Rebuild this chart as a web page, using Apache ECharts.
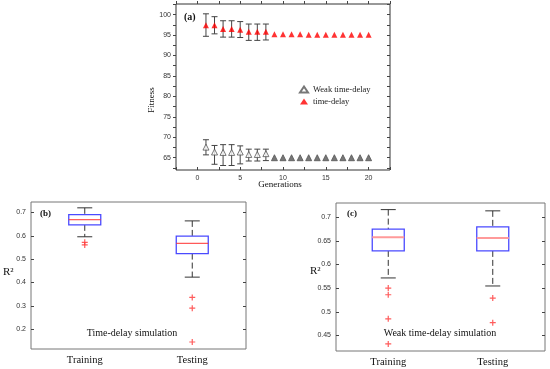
<!DOCTYPE html>
<html><head><meta charset="utf-8">
<script src="https://cdn.jsdelivr.net/npm/echarts@6/dist/echarts.min.js"></script>
<style>html,body{margin:0;padding:0;background:#fff}#c{width:550px;height:369px}</style>
</head><body><div id="c"></div>
<script>
// ---- data: panel (a) ----
const generations = [1,2,3,4,5,6,7,8,9,10,11,12,13,14,15,16,17,18,19,20];
const tdMean = [97.4,97.4,96.5,96.5,96.3,95.8,95.8,95.8,95.2,95.2,95.2,95.2,95.1,95.1,95.1,95.1,95.1,95.1,95.1,95.1];
const tdLow  = [94.7,95.3,94.5,94.5,94.4,93.7,93.7,93.8,95.2,95.2,95.2,95.2,95.1,95.1,95.1,95.1,95.1,95.1,95.1,95.1];
const tdHigh = [100.2,99.5,98.5,98.5,98.3,97.7,97.7,97.7,95.2,95.2,95.2,95.2,95.1,95.1,95.1,95.1,95.1,95.1,95.1,95.1];
const weakMean = [67.6,66.4,66.3,66.3,66.4,65.8,65.8,66.0,65.0,65.0,65.0,65.0,65.0,65.0,65.0,65.0,65.0,65.0,65.0,65.0];
const weakLow  = [65.7,63.4,63.1,63.1,63.5,64.2,64.2,64.3,65.0,65.0,65.0,65.0,65.0,65.0,65.0,65.0,65.0,65.0,65.0,65.0];
const weakHigh = [69.4,68.0,68.2,68.2,67.9,67.1,67.1,67.1,65.0,65.0,65.0,65.0,65.0,65.0,65.0,65.0,65.0,65.0,65.0,65.0];
const xLabelsA = [0,5,10,15,20];
const xTicksA = [-2.5,0,2.5,5,7.5,10,12.5,15,17.5,20,22.5];
const yLabelsA = [65,70,75,80,85,90,95,100];
const yTicksA = [62.5,65,67.5,70,72.5,75,77.5,80,82.5,85,87.5,90,92.5,95,97.5,100,102.5];
// ---- data: panel (b) time-delay boxplots [low whisker, Q1, median, Q3, high whisker] ----
const boxCategories = ['Training','Testing'];
const tdTrainBox = [0.596,0.647,0.669,0.691,0.720];
const tdTestBox  = [0.423,0.524,0.568,0.599,0.664];
const tdTrainOut = [0.572,0.561];
const tdTestOut  = [0.336,0.290,0.145];
const yTicksB = [0.2,0.3,0.4,0.5,0.6,0.7];
// ---- data: panel (c) weak time-delay boxplots ----
const wTrainBox = [0.5715,0.6287,0.6576,0.6746,0.716];
const wTestBox  = [0.5545,0.6287,0.6562,0.6795,0.7134];
const wTrainOut = [0.550,0.536,0.485,0.432];
const wTestOut  = [0.529,0.477];
const yTicksC = [0.45,0.5,0.55,0.6,0.65,0.7];

const serif = '"Liberation Serif","Times New Roman",serif';
const sans = '"Liberation Sans",Arial,sans-serif';

const chart = echarts.init(document.getElementById('c'), null, {renderer:'canvas'});

function errRender(params, api){
  const x = api.value(0), lo = api.value(1), hi = api.value(2);
  if (hi - lo < 0.05) return null;
  const p1 = api.coord([x, lo]), p2 = api.coord([x, hi]);
  const w = 3;
  const st = {stroke:'#444', lineWidth:1};
  return {type:'group', children:[
    {type:'line', shape:{x1:p1[0],y1:p1[1],x2:p2[0],y2:p2[1]}, style:st},
    {type:'line', shape:{x1:p1[0]-w,y1:p1[1],x2:p1[0]+w,y2:p1[1]}, style:st},
    {type:'line', shape:{x1:p2[0]-w,y1:p2[1],x2:p2[0]+w,y2:p2[1]}, style:st}
  ]};
}
function makeBoxRender(medColor, medWidth){
  return function(params, api){
    const i = api.value(0);
    const lo=api.value(1), q1=api.value(2), md=api.value(3), q3=api.value(4), hi=api.value(5);
    const cx = api.coord([i, md])[0];
    const y = v => api.coord([i, v])[1];
    const bw = 16, cw = 7.5;
    const wst = {stroke:'#333', lineWidth:1, lineDash:[6,3]};
    const cst = {stroke:'#333', lineWidth:1};
    return {type:'group', children:[
      {type:'line', shape:{x1:cx,y1:y(hi),x2:cx,y2:y(q3)}, style:wst},
      {type:'line', shape:{x1:cx,y1:y(q1),x2:cx,y2:y(lo)}, style:wst},
      {type:'line', shape:{x1:cx-cw,y1:y(hi),x2:cx+cw,y2:y(hi)}, style:cst},
      {type:'line', shape:{x1:cx-cw,y1:y(lo),x2:cx+cw,y2:y(lo)}, style:cst},
      {type:'rect', shape:{x:cx-bw,y:y(q3),width:2*bw,height:y(q1)-y(q3)}, style:{fill:'#fff',stroke:'#4a4aff',lineWidth:1.3}},
      {type:'line', shape:{x1:cx-bw,y1:y(md),x2:cx+bw,y2:y(md)}, style:{stroke:medColor,lineWidth:medWidth}}
    ]};
  };
}
const plusPath = 'path://M4,0H6V4H10V6H6V10H4V6H0V4H4Z';
function outPts(idx, arr){ return arr.map(v => [idx, v]); }

const tickLbl = {fontFamily:sans, fontSize:7, color:'#333'};

function valAxis(gi, min, max, ticks, labels, pos, showLabels, inside, fmt){
  return {type:'value', gridIndex:gi, min:min, max:max, position:pos,
    axisLine:{show:false, onZero:false}, splitLine:{show:false},
    axisTick:{show:true, inside:inside, length:3, customValues:ticks, lineStyle:{color:'#444'}},
    axisLabel:{show:showLabels, customValues:labels, margin:5, formatter:fmt || (v=>String(v)), ...tickLbl}};
}

const option = {
  animation:false,
  backgroundColor:'#fff',
  grid:[
    {left:176, top:4, width:214, height:166, show:true, borderColor:'#333', borderWidth:1, backgroundColor:'transparent'},
    {left:31, top:202, width:215, height:147, show:true, borderColor:'#777', borderWidth:1, backgroundColor:'transparent'},
    {left:336, top:203, width:209, height:148, show:true, borderColor:'#777', borderWidth:1, backgroundColor:'transparent'}
  ],
  xAxis:[
    valAxis(0, -2.5, 22.5, xTicksA, xLabelsA, 'bottom', true, true),
    valAxis(0, -2.5, 22.5, xTicksA, xLabelsA, 'top', false, false),
    {type:'category', gridIndex:1, data:boxCategories, axisLine:{show:false}, axisTick:{show:false},
      axisLabel:{fontFamily:serif, fontSize:10.5, color:'#111', margin:6}},
    {type:'category', gridIndex:2, data:boxCategories, axisLine:{show:false}, axisTick:{show:false},
      axisLabel:{fontFamily:serif, fontSize:10.5, color:'#111', margin:6}}
  ],
  yAxis:[
    valAxis(0, 62, 102.6, yTicksA, yLabelsA, 'left', true, false),
    valAxis(0, 62, 102.6, yTicksA, yLabelsA, 'right', false, true),
    valAxis(1, 0.115, 0.745, yTicksB, yTicksB, 'left', true, true, v=>v.toFixed(1)),
    valAxis(1, 0.115, 0.745, yTicksB, yTicksB, 'right', false, true),
    valAxis(2, 0.417, 0.730, yTicksC, yTicksC, 'left', true, true, v=>String(+v.toFixed(2))),
    valAxis(2, 0.417, 0.730, yTicksC, yTicksC, 'right', false, true)
  ],
  legend:{
    left:294, top:80, orient:'vertical', itemWidth:8, itemHeight:6, itemGap:3,
    textStyle:{fontFamily:serif, fontSize:8.5, color:'#222'},
    data:['Weak time-delay','time-delay']
  },
  series:[
    {type:'custom', name:'tdErr', xAxisIndex:0, yAxisIndex:0, renderItem:errRender,
      data:generations.map((g,i)=>[g, tdLow[i], tdHigh[i]]), z:2},
    {type:'custom', name:'weakErr', xAxisIndex:0, yAxisIndex:0, renderItem:errRender,
      data:generations.map((g,i)=>[g, weakLow[i], weakHigh[i]]), z:2},
    {type:'scatter', name:'Weak time-delay', xAxisIndex:0, yAxisIndex:0, symbol:'triangle', symbolSize:6,
      itemStyle:{color:'#fff', borderColor:'#555', borderWidth:1},
      data:generations.map((g,i)=> i < 8 ? [g, weakMean[i]] : {value:[g, weakMean[i]], itemStyle:{color:'#555'}}), z:5},
    {type:'scatter', name:'time-delay', xAxisIndex:0, yAxisIndex:0, symbol:'triangle', symbolSize:6,
      itemStyle:{color:'#ff0000'},
      data:generations.map((g,i)=>[g, tdMean[i]]), z:5},
    {type:'custom', xAxisIndex:2, yAxisIndex:2, renderItem:makeBoxRender('#ff3030',1),
      data:[[0, ...tdTrainBox],[1, ...tdTestBox]]},
    {type:'scatter', xAxisIndex:2, yAxisIndex:2, symbol:plusPath, symbolSize:6, itemStyle:{color:'#ff3333'},
      data:[...outPts(0, tdTrainOut), ...outPts(1, tdTestOut)]},
    {type:'custom', xAxisIndex:3, yAxisIndex:4, renderItem:makeBoxRender('#ff9a9a',2),
      data:[[0, ...wTrainBox],[1, ...wTestBox]]},
    {type:'scatter', xAxisIndex:3, yAxisIndex:4, symbol:plusPath, symbolSize:6, itemStyle:{color:'#ff3333'},
      data:[...outPts(0, wTrainOut), ...outPts(1, wTestOut)]}
  ],
  graphic:[
    {type:'text', left:184, top:12, style:{text:'(a)', font:'bold 10px '+serif, fill:'#111'}},
    {type:'text', x:152, y:100, rotation:Math.PI/2, style:{text:'Fitness', font:'9px '+serif, fill:'#111', align:'center', verticalAlign:'middle'}},
    {type:'text', x:280, y:185, style:{text:'Generations', font:'9px '+serif, fill:'#111', align:'center', verticalAlign:'middle'}},
    {type:'text', x:40, y:214, style:{text:'(b)', font:'bold 9px '+serif, fill:'#111', verticalAlign:'middle'}},
    {type:'text', x:3, y:272, style:{text:'R²', font:'11px '+serif, fill:'#111', verticalAlign:'middle'}},
    {type:'text', x:132, y:333, style:{text:'Time-delay simulation', font:'10px '+serif, fill:'#111', align:'center', verticalAlign:'middle'}},
    {type:'text', x:347, y:214, style:{text:'(c)', font:'bold 9px '+serif, fill:'#111', verticalAlign:'middle'}},
    {type:'text', x:310, y:271, style:{text:'R²', font:'11px '+serif, fill:'#111', verticalAlign:'middle'}},
    {type:'text', x:440, y:333, style:{text:'Weak time-delay simulation', font:'10px '+serif, fill:'#111', align:'center', verticalAlign:'middle'}}
  ]
};
chart.setOption(option);
</script>
</body></html>
